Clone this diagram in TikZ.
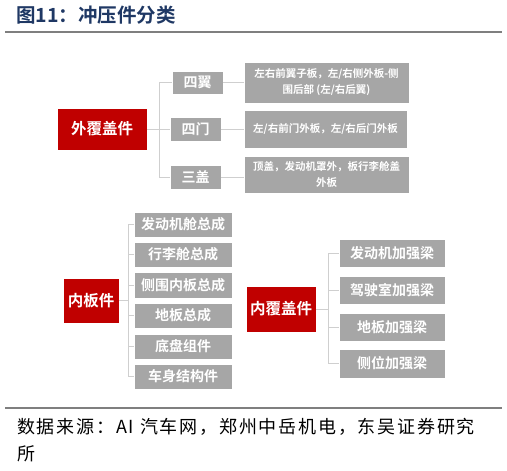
\documentclass[tikz,border=0pt]{standalone}
\usepackage{fontspec}
\newfontfamily\cjk{Noto Sans CJK SC}
\newfontfamily\cjksp[LetterSpace=10]{Noto Sans CJK SC}
\newfontfamily\cjkb{Noto Sans CJK SC Bold}
\definecolor{redbox}{HTML}{C00000}
\definecolor{graybox}{HTML}{A6A6A6}
\definecolor{linkc}{HTML}{CFCFCF}
\definecolor{titlec}{HTML}{1F3864}
\definecolor{rulec}{HTML}{7F7F7F}
\begin{document}
\begin{tikzpicture}[x=1pt,y=-1pt,
  redb/.style={fill=redbox,draw=white,line width=0.6pt,text=white,inner sep=0pt,font=\cjkb\fontsize{15.5}{18}\selectfont},
  grayb/.style={fill=graybox,draw=white,line width=0.6pt,text=white,inner sep=0pt,font=\cjkb\fontsize{14}{17}\selectfont},
  detb/.style={fill=graybox,draw=white,line width=0.6pt,text=white,inner sep=0pt,align=center,font=\cjkb\fontsize{10.5}{16}\selectfont},
  link/.style={draw=linkc,line width=0.9pt},
  srct/.style={anchor=west,inner sep=0pt,font=\cjksp\fontsize{18}{20}\selectfont}]
\useasboundingbox (0,0) rectangle (507,471);
% title and rules
\node[anchor=west,inner sep=0pt,text=titlec,font=\cjkb\fontsize{19.5}{21}\selectfont] (title) at (16,15) {图11：冲压件分类};
\coordinate (r1a) at (5,32); \coordinate (r1b) at (502,32);
\draw[rulec,line width=1.4pt] (r1a) -- (r1b);
\coordinate (r2a) at (5,408); \coordinate (r2b) at (502,408);
\draw[rulec,line width=1.4pt] (r2a) -- (r2b);
\node[srct] (src1) at (17,427) {数据来源：AI 汽车网，郑州中岳机电，东吴证券研究};
\node[srct] (src2) at (17,454) {所};

% outer cover parts
\node[redb,minimum width=90pt,minimum height=42pt] (wfg) at (102,129) {外覆盖件};
\node[grayb,minimum width=51pt,minimum height=23pt] (sy) at (197.5,82.5) {四翼};
\node[grayb,minimum width=51pt,minimum height=24pt] (sm) at (195.5,129) {四门};
\node[grayb,minimum width=51pt,minimum height=24pt] (sg) at (195.5,177) {三盖};
\node[detb,minimum width=165pt,minimum height=41pt] (d1) at (326.5,82.5) {左右前翼子板，左/右侧外板-侧\\围后部 (左/右后翼)};
\node[detb,minimum width=163pt,minimum height=38pt] (d2) at (325.5,129) {左/右前门外板，左/右后门外板};
\node[detb,minimum width=165pt,minimum height=37pt] (d3) at (326.5,174.5) {顶盖，发动机罩外，板行李舱盖\\外板};
\coordinate (j1) at (159,129);
\draw[link] (wfg.east) -- (j1);
\draw[link] (j1 |- sy.west) -- (j1 |- sg.west);
\draw[link] (j1 |- sy.west) -- (sy.west);
\draw[link] (j1 |- sm.west) -- (sm.west);
\draw[link] (j1 |- sg.west) -- (sg.west);
\draw[link] (sy.east) -- (sy.east -| d1.west);
\draw[link] (sm.east) -- (sm.east -| d2.west);
\draw[link] (sg.east) -- (sg.east -| d3.west);

% inner panels
\node[redb,minimum width=56pt,minimum height=45pt] (nbj) at (91,300.5) {内板件};
\node[grayb,minimum width=98pt,minimum height=25pt] (b1) at (183,224.5) {发动机舱总成};
\node[grayb,minimum width=98pt,minimum height=25pt] (b2) at (183,254.5) {行李舱总成};
\node[grayb,minimum width=98pt,minimum height=26pt] (b3) at (183,285) {侧围内板总成};
\node[grayb,minimum width=98pt,minimum height=25pt] (b4) at (183,315.5) {地板总成};
\node[grayb,minimum width=98pt,minimum height=25pt] (b5) at (183,346.5) {底盘组件};
\node[grayb,minimum width=98pt,minimum height=25pt] (b6) at (183,376.5) {车身结构件};
\coordinate (j2) at (128,300.5);
\draw[link] (nbj.east) -- (j2);
\draw[link] (j2 |- b1.west) -- (j2 |- b6.west);
\foreach \b in {b1,b2,b3,b4,b5,b6} \draw[link] (j2 |- \b.west) -- (\b.west);

% inner cover parts
\node[redb,minimum width=70pt,minimum height=46pt] (nfg) at (281,309) {内覆盖件};
\node[grayb,minimum width=106pt,minimum height=28pt] (c1) at (392,253) {发动机加强梁};
\node[grayb,minimum width=106pt,minimum height=28pt] (c2) at (392,290) {驾驶室加强梁};
\node[grayb,minimum width=106pt,minimum height=28pt] (c3) at (392,327) {地板加强梁};
\node[grayb,minimum width=106pt,minimum height=29pt] (c4) at (392,363.5) {侧位加强梁};
\coordinate (j3) at (328,309);
\draw[link] (nfg.east) -- (j3);
\draw[link] (j3 |- c1.west) -- (j3 |- c4.west);
\foreach \c in {c1,c2,c3,c4} \draw[link] (j3 |- \c.west) -- (\c.west);
\end{tikzpicture}
\end{document}
